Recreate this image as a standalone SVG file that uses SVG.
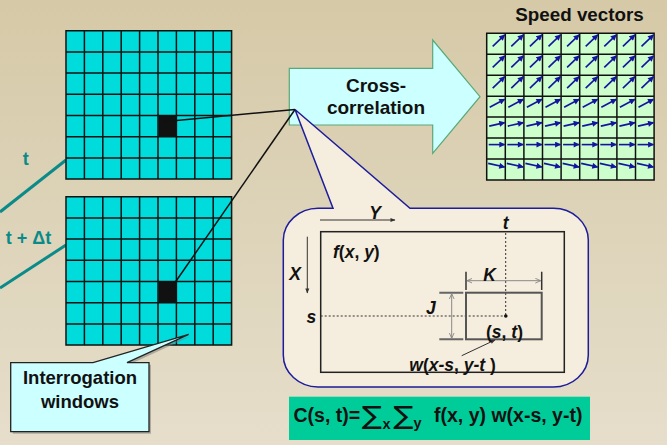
<svg xmlns="http://www.w3.org/2000/svg" xmlns:xlink="http://www.w3.org/1999/xlink" width="667" height="445" viewBox="0 0 667 445">
<style>
.b{font-family:"Liberation Sans",Arial,sans-serif;font-weight:bold;fill:#111}
.i{font-style:italic}
.u{font-style:normal}
.teal{fill:#0a8a88;font-size:18px}
.sig{font-family:"DejaVu Sans",sans-serif;fill:#111}
.grid{stroke:#111;stroke-width:1.5;fill:none}
.vec{stroke:#1414a0;stroke-width:1.6;fill:none;marker-end:url(#vh)}
.thin{stroke:#333;stroke-width:1;fill:none}
.dot{stroke:#333;stroke-width:1;stroke-dasharray:2 2;fill:none}
</style>
<defs>
<linearGradient id="bg" x1="0" y1="0" x2="0" y2="1">
<stop offset="0" stop-color="#d5c9a7"/>
<stop offset="1" stop-color="#e6decb"/>
</linearGradient>
<marker id="vh" viewBox="0 0 10 10" refX="9" refY="5" markerWidth="7.5" markerHeight="6" markerUnits="userSpaceOnUse" orient="auto">
<path d="M0,0 L10,5 L0,10 Z" fill="#1414a0"/>
</marker>
<marker id="sh" viewBox="0 0 10 10" refX="9" refY="5" markerWidth="6" markerHeight="5" markerUnits="userSpaceOnUse" orient="auto">
<path d="M0,1 L10,5 L0,9 Z" fill="#333"/>
</marker>
<marker id="oh" viewBox="0 0 10 10" refX="9" refY="5" markerWidth="6" markerHeight="6" markerUnits="userSpaceOnUse" orient="auto-start-reverse">
<path d="M0,1 L9,5 L0,9" fill="none" stroke="#888" stroke-width="1.5"/>
</marker>
<path id="gl" class="grid" d="M0,0 H165.6 V148.4 H0 Z M18.4,0 V148.4 M36.8,0 V148.4 M55.2,0 V148.4 M73.6,0 V148.4 M92,0 V148.4 M110.4,0 V148.4 M128.8,0 V148.4 M147.2,0 V148.4 M0,21.2 H165.6 M0,42.4 H165.6 M0,63.6 H165.6 M0,84.8 H165.6 M0,106 H165.6 M0,127.2 H165.6"/>
<path id="a0" class="vec" d="M6,13 L18,1.5"/>
<path id="a3" class="vec" d="M3,11 L18,3"/>
<path id="a4" class="vec" d="M2.5,9 L18,5.5"/>
<path id="a5" class="vec" d="M2,6.5 L18,6.5"/>
<path id="a6" class="vec" d="M1.5,4.4 L18,8"/>
<g id="r0"><use xlink:href="#a0" x="0"/><use xlink:href="#a0" x="18.6"/><use xlink:href="#a0" x="37.2"/><use xlink:href="#a0" x="55.8"/><use xlink:href="#a0" x="74.4"/><use xlink:href="#a0" x="93"/><use xlink:href="#a0" x="111.6"/><use xlink:href="#a0" x="130.2"/><use xlink:href="#a0" x="148.8"/></g>
<g id="r3"><use xlink:href="#a3" x="0"/><use xlink:href="#a3" x="18.6"/><use xlink:href="#a3" x="37.2"/><use xlink:href="#a3" x="55.8"/><use xlink:href="#a3" x="74.4"/><use xlink:href="#a3" x="93"/><use xlink:href="#a3" x="111.6"/><use xlink:href="#a3" x="130.2"/><use xlink:href="#a3" x="148.8"/></g>
<g id="r4"><use xlink:href="#a4" x="0"/><use xlink:href="#a4" x="18.6"/><use xlink:href="#a4" x="37.2"/><use xlink:href="#a4" x="55.8"/><use xlink:href="#a4" x="74.4"/><use xlink:href="#a4" x="93"/><use xlink:href="#a4" x="111.6"/><use xlink:href="#a4" x="130.2"/><use xlink:href="#a4" x="148.8"/></g>
<g id="r5"><use xlink:href="#a5" x="0"/><use xlink:href="#a5" x="18.6"/><use xlink:href="#a5" x="37.2"/><use xlink:href="#a5" x="55.8"/><use xlink:href="#a5" x="74.4"/><use xlink:href="#a5" x="93"/><use xlink:href="#a5" x="111.6"/><use xlink:href="#a5" x="130.2"/><use xlink:href="#a5" x="148.8"/></g>
<g id="r6"><use xlink:href="#a6" x="0"/><use xlink:href="#a6" x="18.6"/><use xlink:href="#a6" x="37.2"/><use xlink:href="#a6" x="55.8"/><use xlink:href="#a6" x="74.4"/><use xlink:href="#a6" x="93"/><use xlink:href="#a6" x="111.6"/><use xlink:href="#a6" x="130.2"/><use xlink:href="#a6" x="148.8"/></g>
</defs>

<rect width="667" height="445" fill="url(#bg)"/>

<g id="connectors">
<line x1="66" y1="160" x2="0" y2="212" stroke="#0a8a88" stroke-width="3"/>
<line x1="66" y1="245" x2="0" y2="288" stroke="#0a8a88" stroke-width="3"/>
</g>

<g id="label-t">
<text class="b teal" x="25.7" y="165" text-anchor="middle">t</text>
</g>
<g id="label-tdt">
<text class="b teal" x="28.5" y="243.5" text-anchor="middle">t + Δt</text>
</g>

<g id="grid-t">
<rect x="66" y="30.7" width="165.6" height="148.4" fill="#00dcdc"/>
<rect x="158.4" y="115" width="18.4" height="21.2" fill="#111"/>
<use xlink:href="#gl" x="66" y="30.7"/>
</g>

<g id="grid-tdt">
<rect x="66" y="196.7" width="165.6" height="148.4" fill="#00dcdc"/>
<rect x="158.4" y="281.5" width="18.4" height="21.2" fill="#111"/>
<use xlink:href="#gl" x="66" y="196.7"/>
</g>

<g id="speed-vectors">
<text class="b" x="579.5" y="20.5" text-anchor="middle" font-size="18.8">Speed vectors</text>
<rect x="486.7" y="33.3" width="167.4" height="146.7" fill="#ccffcc"/>
<path class="grid" d="M486.7,33.3 H654.1 V180 H486.7 Z M505.3,33.3 V180 M523.9,33.3 V180 M542.5,33.3 V180 M561.1,33.3 V180 M579.7,33.3 V180 M598.3,33.3 V180 M616.9,33.3 V180 M635.5,33.3 V180 M486.7,54.3 H654.1 M486.7,75.2 H654.1 M486.7,96.2 H654.1 M486.7,117.1 H654.1 M486.7,138.1 H654.1 M486.7,159 H654.1"/>
<use xlink:href="#r0" x="486.7" y="33.3"/>
<use xlink:href="#r0" x="486.7" y="54.3"/>
<use xlink:href="#r0" x="486.7" y="75.2"/>
<use xlink:href="#r3" x="486.7" y="96.2"/>
<use xlink:href="#r4" x="486.7" y="117.1"/>
<use xlink:href="#r5" x="486.7" y="138.1"/>
<use xlink:href="#r6" x="486.7" y="159"/>
</g>

<g id="cross-correlation">
<path d="M289.3,68.3 H432.7 V40 L480,96.7 L432.7,153.3 V125 H289.3 Z" fill="#ccffff" stroke="#5aa878" stroke-width="1.2"/>
<text class="b" x="376" y="91.5" text-anchor="middle" font-size="19">Cross-</text>
<text class="b" x="376" y="114" text-anchor="middle" font-size="19">correlation</text>
</g>

<g id="detail">
<path d="M318,208.3 H333 L295,109.5 L410,208.3 H553 A35 32 0 0 1 588.3,240 V355 A35 32 0 0 1 553,387 H318 A35 32 0 0 1 283.3,355 V240 A35 32 0 0 1 318,208.3 Z" fill="#f5eddd" stroke="#1c1c9c" stroke-width="1.5"/>
<rect x="320.7" y="231.7" width="243.6" height="140.6" fill="none" stroke="#222" stroke-width="1.5"/>
<line class="thin" x1="320" y1="220" x2="395" y2="220" marker-end="url(#sh)"/>
<line class="thin" x1="307.3" y1="236.7" x2="307.3" y2="293" marker-end="url(#sh)"/>
<line class="dot" x1="320.7" y1="316" x2="506" y2="316"/>
<line class="dot" x1="505.7" y1="233" x2="505.7" y2="316"/>
<circle cx="505.8" cy="316" r="1.8" fill="#111"/>
<rect x="466" y="292.7" width="75.7" height="46.6" fill="none" stroke="#555" stroke-width="2"/>
<path d="M466,271.7 V290 M541.7,271.7 V290" stroke="#333" stroke-width="1.5"/>
<line x1="467" y1="280.7" x2="540.7" y2="280.7" stroke="#888" stroke-width="1" marker-start="url(#oh)" marker-end="url(#oh)"/>
<path d="M439.3,292.7 H463.3 M439.3,339.3 H463.3" stroke="#666" stroke-width="2"/>
<line x1="451.7" y1="293.7" x2="451.7" y2="338.3" stroke="#888" stroke-width="1" marker-start="url(#oh)" marker-end="url(#oh)"/>
<line class="thin" x1="461.7" y1="355.7" x2="495" y2="340" marker-end="url(#sh)"/>
<text class="b i" x="375" y="219" text-anchor="middle" font-size="17.5">Y</text>
<text class="b i" x="289.3" y="280" font-size="17.5">X</text>
<text class="b i" x="306.5" y="323.3" font-size="17.5">s</text>
<text class="b i" x="505.7" y="229.3" text-anchor="middle" font-size="17.5">t</text>
<text class="b i" x="333" y="258.3" font-size="17.5">f<tspan class="u">(</tspan>x<tspan class="u">, </tspan>y<tspan class="u">)</tspan></text>
<text class="b i" x="483.3" y="280.7" font-size="17.5">K</text>
<text class="b i" x="426" y="314.3" font-size="17.5">J</text>
<text class="b i" x="486" y="337.7" font-size="17.5"><tspan class="u">(</tspan>s<tspan class="u">, </tspan>t<tspan class="u">)</tspan></text>
<text class="b i" x="409.3" y="370.7" font-size="17.5">w<tspan class="u">(</tspan>x-s<tspan class="u">, </tspan>y-t <tspan class="u">)</tspan></text>
</g>

<g id="formula">
<rect x="289" y="396.7" width="301" height="43.3" fill="#00cc99"/>
<text class="b" x="293.5" y="422" font-size="19.5">C(s, t)=</text>
<text class="sig" transform="translate(362,423.5) scale(1.2,1)" font-size="25">∑</text>
<text class="b" x="382.5" y="428.5" font-size="14.5">x</text>
<text class="sig" transform="translate(393.5,423.5) scale(1.2,1)" font-size="25">∑</text>
<text class="b" x="413.5" y="428" font-size="14.5">y</text>
<text class="b" x="434" y="422" font-size="19.5">f(x, y) w(x-s, y-t)</text>
</g>

<g id="interrogation-windows">
<path d="M12.7,364.7 H95 L190.7,336.3 L129,364.7 H151 V433.7 H12.7 Z" fill="#777" opacity="0.5"/>
<path d="M10.7,362.7 H93 L188.7,334.3 L127,362.7 H149 V431.7 H10.7 Z" fill="#ccffff" stroke="#222" stroke-width="1.3"/>
<text class="b" x="80" y="384" text-anchor="middle" font-size="18.5">Interrogation</text>
<text class="b" x="80" y="407.5" text-anchor="middle" font-size="18.5">windows</text>
</g>

<g id="links">
<line x1="163.3" y1="121.7" x2="295" y2="109.5" stroke="#111" stroke-width="1.5"/>
<line x1="168.3" y1="292.3" x2="295" y2="109.5" stroke="#111" stroke-width="1.5"/>
</g>
</svg>
